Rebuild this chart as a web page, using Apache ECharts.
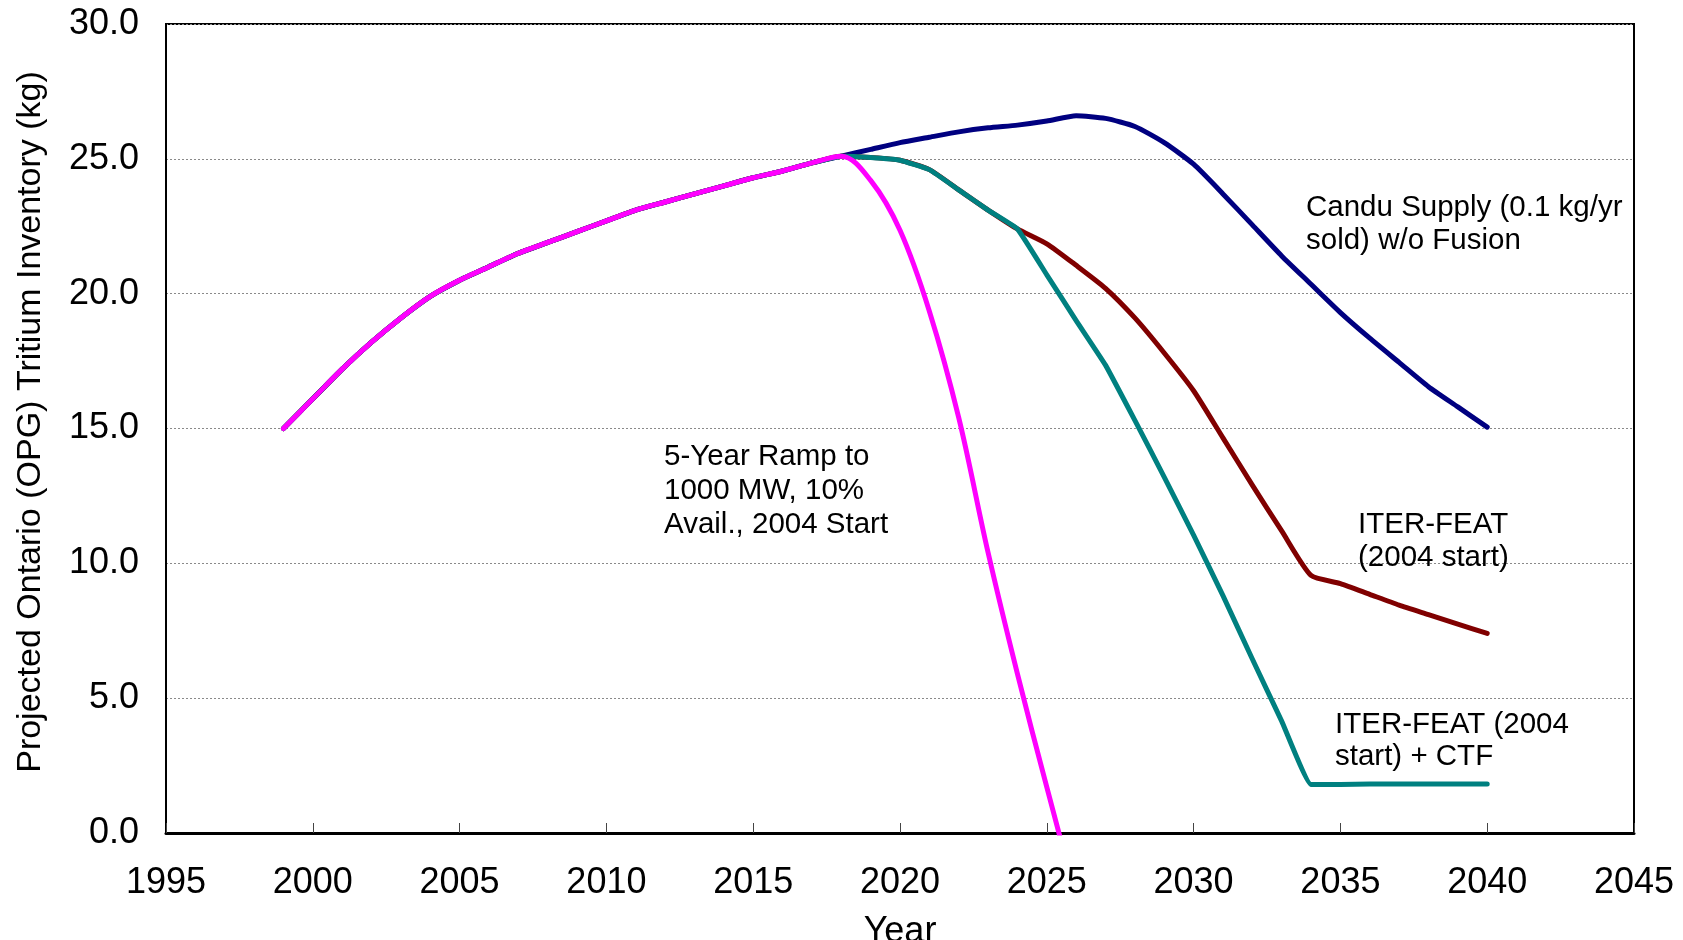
<!DOCTYPE html>
<html>
<head>
<meta charset="utf-8">
<script src="https://cdn.jsdelivr.net/npm/echarts@6/dist/echarts.min.js"></script>
<style>
html,body{margin:0;padding:0;background:#fff;}
#c{width:1683px;height:940px;}
</style>
</head>
<body>
<div id="c"></div>
<script>
// ---- data ----
const years = [1999,2000,2001,2002,2003,2004,2005,2006,2007,2008,2009,2010,2011,2012,2013,2014,2015,2016,2017,2018,
               2019,2020,2021,2022,2023,2024,2025,2026,2027,2028,2029,2030,2031,2032,2033,2034,2035,2036,2037,2038,2039,2040];

// shared history 1999-2018
const sharedHistory = [15.0,16.1,17.2,18.2,19.1,19.9,20.5,21.0,21.5,21.9,22.3,22.7,23.1,23.4,23.7,24.0,24.3,24.55,24.85,25.1];

// 2019-2040 continuations
const canduTail = [25.35,25.6,25.8,26.0,26.15,26.25,26.4,26.6,26.5,26.2,25.6,24.8,23.7,22.55,21.4,20.35,19.3,18.35,17.45,16.55,15.8,15.05];
const iterTail  = [25.05,24.95,24.6,23.85,23.1,22.4,21.85,21.05,20.2,19.1,17.8,16.4,14.65,12.9,11.2,9.55,9.25,8.85,8.45,8.1,7.75,7.4];
const ctfTail   = [25.05,24.95,24.6,23.85,23.1,22.4,20.7,19.0,17.35,15.3,13.2,11.05,8.8,6.45,4.15,1.8,1.8,1.82,1.82,1.82,1.82,1.82];
const rampTail  = [24.2,22.35,19.35,15.4,10.4,5.9,1.7,-2.4];   // 2019-2026 (below 0 clipped by the axis)

const seriesNames = ["Candu Supply (0.1 kg/yr sold) w/o Fusion", "ITER-FEAT (2004 start)", "ITER-FEAT (2004 start) + CTF", "5-Year Ramp to 1000 MW, 10% Avail., 2004 Start"];
const seriesColors = ["#000080", "#800000", "#008080", "#FF00FF"];

const xTicks = {min:1995, max:2045, step:5};
const yTicks = {min:0, max:30, step:5};
const xAxisTitle = "Year";
const yAxisTitle = "Projected Ontario (OPG) Tritium Inventory (kg)";

// annotation text blocks
const annotations = [
  {lines:["Candu Supply (0.1 kg/yr", "sold) w/o Fusion"], x:1306, y:[208, 241]},
  {lines:["5-Year Ramp to", "1000 MW, 10%", "Avail., 2004 Start"], x:664, y:[457, 491, 525]},
  {lines:["ITER-FEAT", "(2004 start)"], x:1358, y:[525, 558]},
  {lines:["ITER-FEAT (2004", "start) + CTF"], x:1335, y:[725, 757]}
];

// ---- build ----
function pairs(tail){
  const vals = sharedHistory.concat(tail);
  return vals.map((v,i)=>[years[i], v]);
}
const seriesData = [pairs(canduTail), pairs(iterTail), pairs(ctfTail), pairs(rampTail)];
const seriesSmooth = [0.2, 0.2, 0.1, 0.35];

const FONT = '"Liberation Sans", Arial, sans-serif';

const graphics = [];
annotations.forEach(a=>{
  a.lines.forEach((t,i)=>{
    graphics.push({type:'text', x:a.x, y:a.y[i], z:100,
      style:{text:t, font:'29.5px ' + FONT, fill:'#000', verticalAlign:'middle', align:'left'}});
  });
});

const chart = echarts.init(document.getElementById('c'), null, {renderer:'canvas'});
chart.setOption({
  animation:false,
  backgroundColor:'#ffffff',
  grid:{left:166, right:49, top:24, bottom:107, containLabel:false, outerBoundsMode:'none',
        show:true, borderColor:'#000', borderWidth:2, backgroundColor:'transparent'},
  xAxis:{
    type:'value', min:xTicks.min, max:xTicks.max, interval:xTicks.step,
    name:xAxisTitle, nameLocation:'middle', nameGap:81,
    nameTextStyle:{fontFamily:FONT, fontSize:36, color:'#000'},
    axisLine:{show:true, onZero:false, lineStyle:{color:'#000', width:3}},
    axisTick:{show:true, inside:true, length:10, lineStyle:{color:'#444', width:1}},
    axisLabel:{fontFamily:FONT, fontSize:36, color:'#000', margin:32, showMinLabel:true, showMaxLabel:true,
      formatter:v=>String(v)},
    splitLine:{show:false}
  },
  yAxis:{
    type:'value', min:yTicks.min, max:yTicks.max, interval:yTicks.step,
    name:yAxisTitle, nameLocation:'middle', nameGap:118, nameRotate:90,
    nameTextStyle:{fontFamily:FONT, fontSize:34, color:'#000', padding:[0,0,0,13]},
    axisLine:{show:true, lineStyle:{color:'#000', width:2}},
    axisTick:{show:false},
    axisLabel:{fontFamily:FONT, fontSize:36, color:'#000', margin:27, formatter:v=>v.toFixed(1)},
    splitLine:{show:true, lineStyle:{color:'#8a8a8a', width:1, type:[2,2]}}
  },
  series:seriesData.map((d,i)=>({
    type:'line', name:seriesNames[i], data:d, showSymbol:false, symbol:'none',
    clip:true, smooth:seriesSmooth[i], z:2+i,
    lineStyle:{color:seriesColors[i], width:5, cap:'round', join:'round'},
    itemStyle:{color:seriesColors[i]}
  })),
  graphic:graphics
});
</script>
</body>
</html>
